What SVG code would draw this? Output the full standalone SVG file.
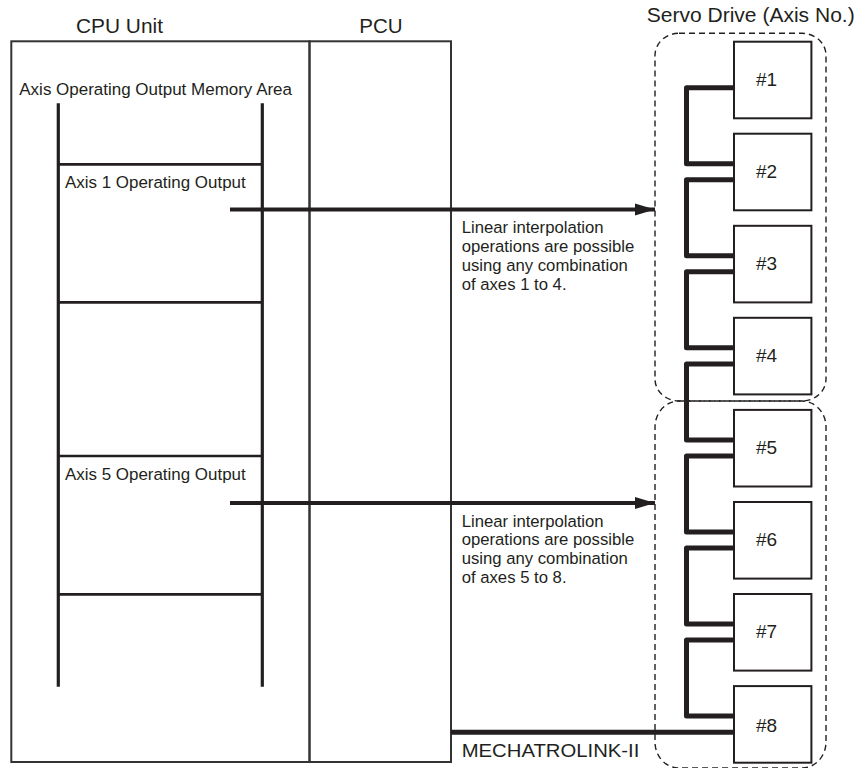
<svg xmlns="http://www.w3.org/2000/svg" width="863" height="768" viewBox="0 0 863 768">
  <style>
    text { font-family: "Liberation Sans", Arial, Helvetica, sans-serif; fill: #231f20; }
    .title { font-size: 20.5px; }
    .label { font-size: 16.7px; }
    .num { font-size: 19px; }
    .frame { fill: none; stroke: #333; stroke-width: 2; }
    .ladder { fill: none; stroke: #231f20; stroke-width: 3.2; }
    .rung { fill: none; stroke: #231f20; stroke-width: 2.7; }
    .box { fill: #fff; stroke: #231f20; stroke-width: 2; }
    .group { fill: none; stroke: #231f20; stroke-width: 1.4; stroke-dasharray: 6 4; }
    .chain { fill: none; stroke: #231f20; stroke-width: 5; stroke-linejoin: round; }
    .arrow { fill: none; stroke: #231f20; stroke-width: 4; }
  </style>
  <defs>
    <marker id="ah" markerUnits="userSpaceOnUse" markerWidth="22" markerHeight="14" viewBox="0 0 22 14" refX="20" refY="7" orient="auto">
      <path d="M0,1 L20,7 L0,13 Z" fill="#231f20"/>
    </marker>
  </defs>

  <rect width="863" height="768" fill="#fff"/>

  <!-- Titles -->
  <text class="title" x="76" y="33.3" textLength="87" lengthAdjust="spacingAndGlyphs">CPU Unit</text>
  <text class="title" x="359.3" y="33.3" textLength="43.4" lengthAdjust="spacingAndGlyphs">PCU</text>
  <text class="title" x="646.7" y="21.7" textLength="208" lengthAdjust="spacingAndGlyphs">Servo Drive (Axis No.)</text>

  <!-- CPU Unit -->
  <g id="cpu-unit">
    <rect class="frame" x="11.3" y="41.3" width="298.2" height="720.7"/>
    <text class="label" x="19.3" y="95" textLength="272.7" lengthAdjust="spacingAndGlyphs">Axis Operating Output Memory Area</text>
    <line class="ladder" x1="58.3" y1="103.3" x2="58.3" y2="686.7"/>
    <line class="ladder" x1="262.3" y1="103.3" x2="262.3" y2="686.7"/>
    <line class="rung" x1="58.3" y1="164.3" x2="262.3" y2="164.3"/>
    <line class="rung" x1="58.3" y1="302.3" x2="262.3" y2="302.3"/>
    <line class="rung" x1="58.3" y1="456" x2="262.3" y2="456"/>
    <line class="rung" x1="58.3" y1="594.3" x2="262.3" y2="594.3"/>
    <text class="label" x="65" y="188" textLength="180.7" lengthAdjust="spacingAndGlyphs">Axis 1 Operating Output</text>
    <text class="label" x="65" y="480" textLength="180.7" lengthAdjust="spacingAndGlyphs">Axis 5 Operating Output</text>
  </g>

  <!-- PCU -->
  <g id="pcu">
    <rect class="frame" x="309.5" y="41.3" width="141.5" height="720.7"/>
  </g>

  <!-- Axis groups -->
  <g id="axis-group-1">
    <rect class="group" x="655" y="33.3" width="171" height="367.7" rx="24" ry="22"/>
  </g>
  <g id="axis-group-2">
    <rect class="group" x="655" y="401" width="171" height="367" rx="24" ry="26"/>
  </g>

  <!-- Connectors -->
  <g id="connectors">
    <line class="arrow" x1="230" y1="209.5" x2="655" y2="209.5" marker-end="url(#ah)"/>
    <line class="arrow" x1="230" y1="503" x2="655" y2="503" marker-end="url(#ah)"/>
    <path class="chain" d="M734,87.7 H686.5 V163.7 H734"/>
    <path class="chain" d="M734,179.7 H686.5 V255.8 H734"/>
    <path class="chain" d="M734,271.8 H686.5 V347.8 H734"/>
    <path class="chain" d="M734,363.9 H686.5 V439.9 H734"/>
    <path class="chain" d="M734,455.9 H686.5 V532 H734"/>
    <path class="chain" d="M734,548 H686.5 V624 H734"/>
    <path class="chain" d="M734,640 H686.5 V716.1 H734"/>
    <line x1="451" y1="732.3" x2="734" y2="732.3" stroke="#231f20" stroke-width="5"/>
    <text class="label" x="461.7" y="756.7" style="font-size:18.6px" textLength="177.7" lengthAdjust="spacingAndGlyphs">MECHATROLINK-II</text>
  </g>

  <!-- Notes -->
  <g id="note-1">
    <text class="label" x="461.7" y="233.3">Linear interpolation</text>
    <text class="label" x="461.7" y="252.2">operations are possible</text>
    <text class="label" x="461.7" y="271.1">using any combination</text>
    <text class="label" x="461.7" y="290">of axes 1 to 4.</text>
  </g>
  <g id="note-2">
    <text class="label" x="461.7" y="526.5">Linear interpolation</text>
    <text class="label" x="461.7" y="545.4">operations are possible</text>
    <text class="label" x="461.7" y="564.3">using any combination</text>
    <text class="label" x="461.7" y="583.2">of axes 5 to 8.</text>
  </g>

  <!-- Servo drives -->
  <g id="servo-1"><rect class="box" x="734" y="41.7" width="77.4" height="76.6"/><text class="num" x="756" y="86">#1</text></g>
  <g id="servo-2"><rect class="box" x="734" y="133.7" width="77.4" height="76.6"/><text class="num" x="756" y="178">#2</text></g>
  <g id="servo-3"><rect class="box" x="734" y="225.8" width="77.4" height="76.6"/><text class="num" x="756" y="270.1">#3</text></g>
  <g id="servo-4"><rect class="box" x="734" y="317.8" width="77.4" height="76.6"/><text class="num" x="756" y="362.1">#4</text></g>
  <g id="servo-5"><rect class="box" x="734" y="409.9" width="77.4" height="76.6"/><text class="num" x="756" y="454.2">#5</text></g>
  <g id="servo-6"><rect class="box" x="734" y="502" width="77.4" height="76.6"/><text class="num" x="756" y="546.3">#6</text></g>
  <g id="servo-7"><rect class="box" x="734" y="594" width="77.4" height="76.6"/><text class="num" x="756" y="638.3">#7</text></g>
  <g id="servo-8"><rect class="box" x="734" y="686.1" width="77.4" height="76.6"/><text class="num" x="756" y="731.7">#8</text></g>
</svg>
